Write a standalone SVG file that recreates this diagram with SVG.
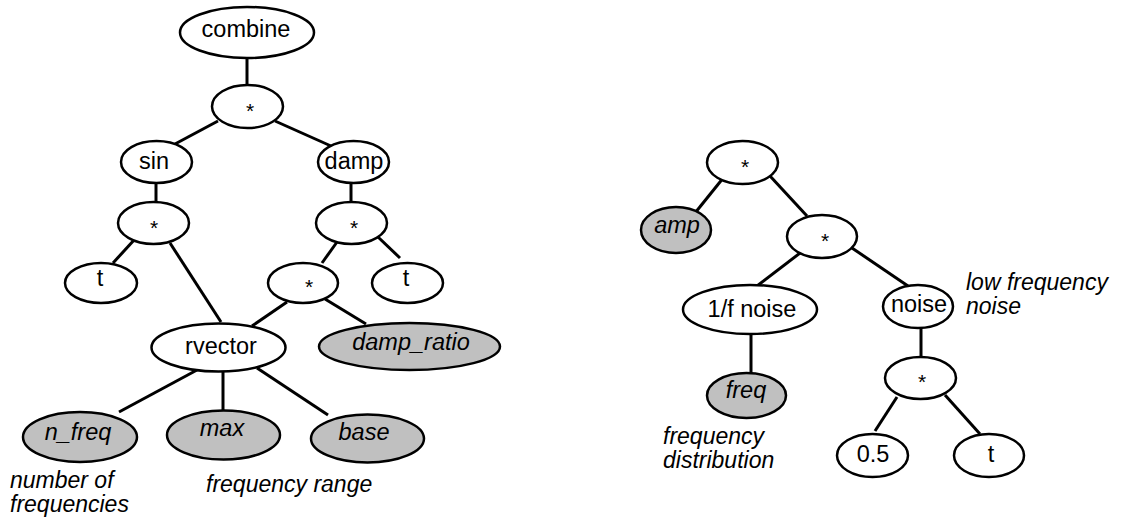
<svg xmlns="http://www.w3.org/2000/svg" width="1125" height="519" viewBox="0 0 1125 519">
  <style>
    .bg { fill: #ffffff; }
    .edge { stroke: #000; stroke-width: 3; fill: none; }
    .op ellipse { fill: #ffffff; stroke: #000; stroke-width: 2.5; }
    .param ellipse { fill: #c0c0c0; stroke: #000; stroke-width: 2.5; }
    text { font-family: "Liberation Sans", Arial, sans-serif; font-size: 23.5px; fill: #000; text-anchor: middle; }
    .param text { font-style: italic; }
    text.star { font-size: 21px; }
    text.note { font-style: italic; text-anchor: start; font-size: 23px; }
  </style>
  <rect class="bg" x="0" y="0" width="1125" height="519"/>

  <!-- connectors -->
  <g id="connectors">
    <!-- left tree -->
    <line class="edge" x1="247" y1="58" x2="247" y2="85"/>
    <line class="edge" x1="218" y1="121" x2="175" y2="144"/>
    <line class="edge" x1="275" y1="121" x2="331" y2="146"/>
    <line class="edge" x1="156" y1="183" x2="156" y2="202"/>
    <line class="edge" x1="351" y1="183" x2="351" y2="202"/>
    <line class="edge" x1="135" y1="239" x2="113" y2="263"/>
    <line class="edge" x1="170" y1="243" x2="221" y2="322"/>
    <line class="edge" x1="337" y1="242" x2="322" y2="263"/>
    <line class="edge" x1="378" y1="237" x2="400" y2="258"/>
    <line class="edge" x1="287" y1="302" x2="252" y2="326"/>
    <line class="edge" x1="325" y1="299" x2="366" y2="324"/>
    <line class="edge" x1="197" y1="370" x2="119" y2="412"/>
    <line class="edge" x1="223" y1="371" x2="223" y2="411"/>
    <line class="edge" x1="257" y1="368" x2="328" y2="415"/>
    <!-- right tree -->
    <line class="edge" x1="724" y1="177" x2="695" y2="213"/>
    <line class="edge" x1="770" y1="176" x2="807" y2="216"/>
    <line class="edge" x1="804" y1="250" x2="757" y2="286"/>
    <line class="edge" x1="852" y1="248" x2="908" y2="286"/>
    <line class="edge" x1="751" y1="334" x2="751" y2="373"/>
    <line class="edge" x1="921" y1="323" x2="921" y2="357"/>
    <line class="edge" x1="897" y1="397" x2="875" y2="431"/>
    <line class="edge" x1="945" y1="395" x2="980" y2="434"/>
  </g>

  <!-- left tree nodes -->
  <g id="combine" class="op"><ellipse cx="247" cy="32.5" rx="67" ry="25.5"/><text x="246" y="36.5">combine</text></g>
  <g id="mul-top" class="op"><ellipse cx="247.5" cy="106.5" rx="35.5" ry="21.5"/><text class="star" x="250" y="118">*</text></g>
  <g id="sin" class="op"><ellipse cx="156.5" cy="162" rx="35.5" ry="21"/><text x="154" y="169">sin</text></g>
  <g id="damp" class="op"><ellipse cx="353.5" cy="162" rx="35.5" ry="21"/><text x="354" y="168.5">damp</text></g>
  <g id="mul-sin" class="op"><ellipse cx="153.5" cy="223" rx="35.5" ry="21"/><text class="star" x="154" y="235">*</text></g>
  <g id="mul-damp" class="op"><ellipse cx="351.5" cy="223" rx="35.5" ry="21"/><text class="star" x="354" y="235">*</text></g>
  <g id="t-left" class="op"><ellipse cx="101" cy="283" rx="36" ry="20"/><text x="100" y="285.5">t</text></g>
  <g id="mul-mid" class="op"><ellipse cx="303" cy="283" rx="35" ry="20"/><text class="star" x="309" y="294">*</text></g>
  <g id="t-mid" class="op"><ellipse cx="407.5" cy="283" rx="35.5" ry="20"/><text x="406" y="285.5">t</text></g>
  <g id="rvector" class="op"><ellipse cx="218.5" cy="347.5" rx="67" ry="24"/><text x="221" y="353.5">rvector</text></g>
  <g id="damp_ratio" class="param"><ellipse cx="409.5" cy="346.5" rx="90.5" ry="23.5"/><text x="411" y="350">damp_ratio</text></g>
  <g id="n_freq" class="param"><ellipse cx="80" cy="437" rx="57" ry="25"/><text x="78" y="440">n_freq</text></g>
  <g id="max" class="param"><ellipse cx="223.5" cy="435" rx="56.5" ry="24.5"/><text x="222" y="436">max</text></g>
  <g id="base" class="param"><ellipse cx="367.5" cy="438.5" rx="56.5" ry="24"/><text x="364" y="439.5">base</text></g>

  <!-- left tree annotations -->
  <g id="note-nfreq">
    <text class="note" x="10" y="488">number of</text>
    <text class="note" x="10" y="512">frequencies</text>
  </g>
  <g id="note-range">
    <text class="note" x="206" y="492">frequency range</text>
  </g>

  <!-- right tree nodes -->
  <g id="mul-r-top" class="op"><ellipse cx="742.5" cy="162.5" rx="35.5" ry="21.5"/><text class="star" x="745" y="174">*</text></g>
  <g id="amp" class="param"><ellipse cx="676" cy="230" rx="35" ry="23"/><text x="677" y="233">amp</text></g>
  <g id="mul-r-mid" class="op"><ellipse cx="822" cy="236.5" rx="35" ry="21.5"/><text class="star" x="825" y="248">*</text></g>
  <g id="onef-noise" class="op"><ellipse cx="750" cy="309.5" rx="67" ry="24.5"/><text x="752" y="317">1/f noise</text></g>
  <g id="noise" class="op"><ellipse cx="918" cy="306.5" rx="35" ry="21.5"/><text x="919" y="312">noise</text></g>
  <g id="freq" class="param"><ellipse cx="746.5" cy="395.5" rx="39.5" ry="22.5"/><text x="746" y="398">freq</text></g>
  <g id="mul-r-low" class="op"><ellipse cx="920.5" cy="378" rx="35.5" ry="21"/><text class="star" x="922" y="389">*</text></g>
  <g id="half" class="op"><ellipse cx="872.5" cy="455.5" rx="35.5" ry="21.5"/><text x="873" y="462">0.5</text></g>
  <g id="t-right" class="op"><ellipse cx="989" cy="455.5" rx="35" ry="21.5"/><text x="991" y="462">t</text></g>

  <!-- right tree annotations -->
  <g id="note-lowfreq">
    <text class="note" x="966" y="290">low frequency</text>
    <text class="note" x="966" y="314">noise</text>
  </g>
  <g id="note-dist">
    <text class="note" x="663" y="444">frequency</text>
    <text class="note" x="663" y="468">distribution</text>
  </g>
</svg>
